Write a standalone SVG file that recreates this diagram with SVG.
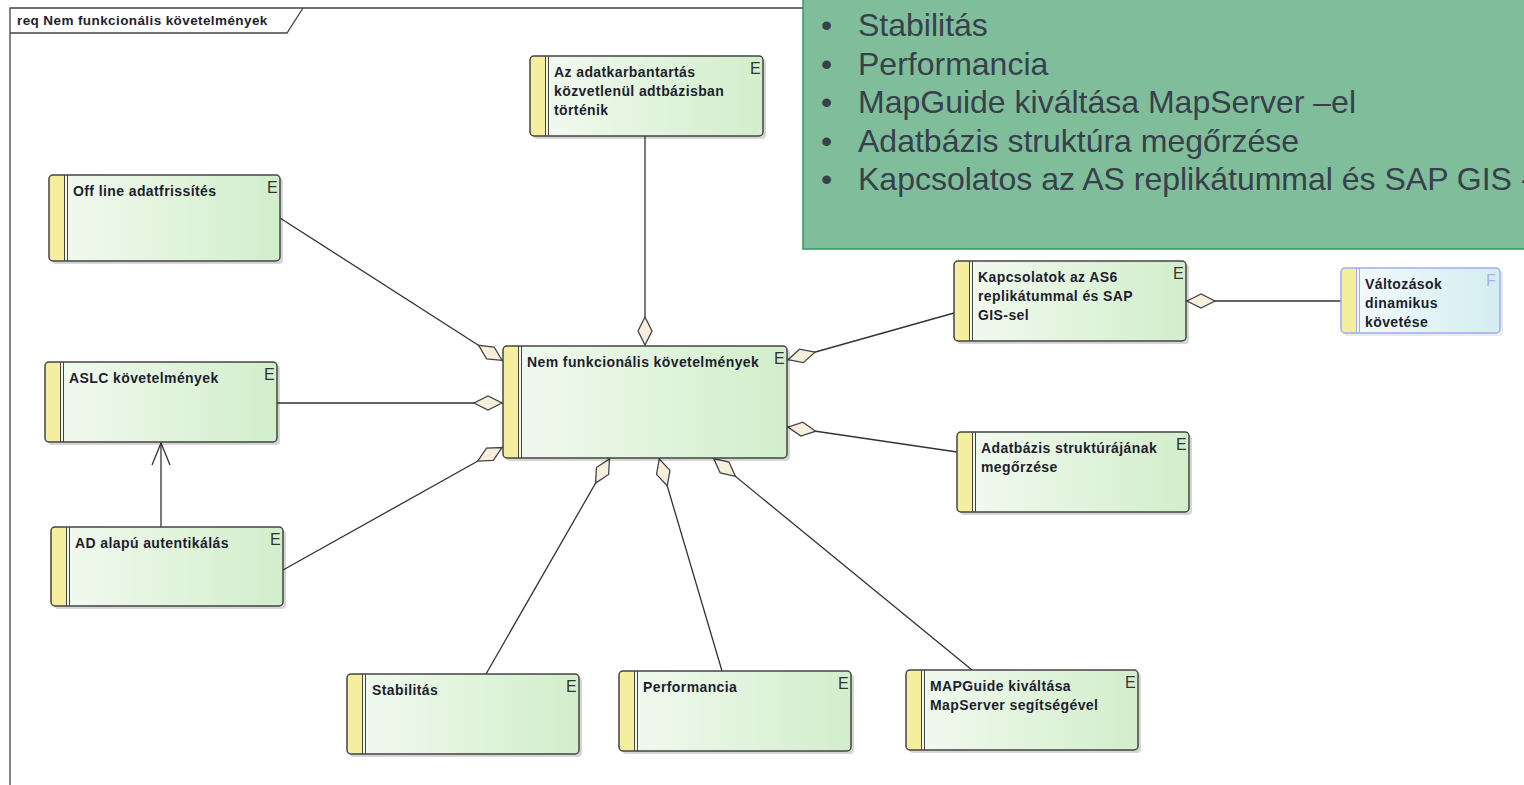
<svg xmlns="http://www.w3.org/2000/svg" width="1524" height="785" viewBox="0 0 1524 785">
<defs>
  <linearGradient id="gE" x1="0" y1="0" x2="1" y2="0">
    <stop offset="0" stop-color="#f3faf1"/>
    <stop offset="1" stop-color="#d2eecb"/>
  </linearGradient>
  <linearGradient id="gF" x1="0" y1="0" x2="1" y2="0">
    <stop offset="0" stop-color="#f6fcfc"/>
    <stop offset="1" stop-color="#d3edf1"/>
  </linearGradient>
  <marker id="dia" markerWidth="32" markerHeight="18" refX="0" refY="9" orient="auto" markerUnits="userSpaceOnUse">
    <path d="M1,9 L15,2 L29,9 L15,16 Z" fill="#f8eedc" stroke="#444" stroke-width="1.3"/>
  </marker>
</defs>
<style>
  .t{font-family:"Liberation Sans",Arial,sans-serif;font-weight:bold;font-size:14px;letter-spacing:0.4px;fill:#1e1e2e}
  .e{font-family:"Liberation Sans",Arial,sans-serif;font-size:16px;fill:#333}
  .f{font-family:"Liberation Sans",Arial,sans-serif;font-size:16px;fill:#a8b0f4}
  .sh{fill:#000;opacity:0.16}
  .bx{fill:url(#gE)}
  .bf{fill:url(#gF)}
  .ys{fill:#f4ee9e}
  .ol{fill:none;stroke:#444;stroke-width:1.5}
  .olf{fill:none;stroke:#a3aaf2;stroke-width:1.5}
  .dl{stroke:#444;stroke-width:1}
  .dlf{stroke:#a3aaf2;stroke-width:1}
  .c{stroke:#333;stroke-width:1.3;fill:none}
  .nt{font-family:"Liberation Sans",Arial,sans-serif;font-size:32px;fill:#38404c}
</style>

<g id="frame">
  <polyline points="803,8 10,8 10,785" fill="none" stroke="#444" stroke-width="1.3"/>
  <polyline points="10,33 287,33 303,8" fill="none" stroke="#444" stroke-width="1.3"/>
  <text x="17" y="25" class="t" style="font-size:13.5px">req Nem funkcionális követelmények</text>
</g>

<g id="connectors">
  <line class="c" x1="645" y1="346" x2="645" y2="136" marker-start="url(#dia)"/>
  <line class="c" x1="503" y1="361" x2="280" y2="218" marker-start="url(#dia)"/>
  <line class="c" x1="503" y1="403" x2="277" y2="403" marker-start="url(#dia)"/>
  <line class="c" x1="503" y1="447" x2="283" y2="570" marker-start="url(#dia)"/>
  <line class="c" x1="610" y1="458" x2="486" y2="674" marker-start="url(#dia)"/>
  <line class="c" x1="659" y1="458" x2="722" y2="671" marker-start="url(#dia)"/>
  <line class="c" x1="713" y1="458" x2="972" y2="670" marker-start="url(#dia)"/>
  <line class="c" x1="787" y1="427" x2="957" y2="452" marker-start="url(#dia)"/>
  <line class="c" x1="787" y1="360" x2="954" y2="313" marker-start="url(#dia)"/>
  <line class="c" x1="1186" y1="301" x2="1341" y2="301" marker-start="url(#dia)"/>
  <line class="c" x1="161" y1="527" x2="161" y2="443"/>
  <polyline class="c" points="152,465 161,443 170,465"/>
</g>

<g id="n-adatkarbantartas">
  <rect class="sh" x="533" y="59" width="233" height="80" rx="4"/>
  <rect class="bx" x="530" y="56" width="233" height="80" rx="4"/>
  <rect class="ys" x="530" y="56" width="15" height="80" rx="4"/>
  <rect class="ys" x="538" y="56" width="8" height="80"/>
  <line class="dl" x1="545.5" y1="56" x2="545.5" y2="136"/><line class="dl" x1="548.5" y1="56" x2="548.5" y2="136"/>
  <rect class="ol" x="530" y="56" width="233" height="80" rx="4"/>
  <text class="t" x="554" y="77">Az adatkarbantartás</text>
  <text class="t" x="554" y="96">közvetlenül adtbázisban</text>
  <text class="t" x="554" y="115">történik</text>
  <text class="e" x="750" y="74">E</text>
</g>

<g id="n-offline">
  <rect class="sh" x="52" y="178" width="231" height="86" rx="4"/>
  <rect class="bx" x="49" y="175" width="231" height="86" rx="4"/>
  <rect class="ys" x="49" y="175" width="15" height="86" rx="4"/>
  <rect class="ys" x="57" y="175" width="8" height="86"/>
  <line class="dl" x1="64.5" y1="175" x2="64.5" y2="261"/><line class="dl" x1="67.5" y1="175" x2="67.5" y2="261"/>
  <rect class="ol" x="49" y="175" width="231" height="86" rx="4"/>
  <text class="t" x="73" y="196">Off line adatfrissítés</text>
  <text class="e" x="267" y="193">E</text>
</g>

<g id="n-aslc">
  <rect class="sh" x="48" y="365" width="232" height="80" rx="4"/>
  <rect class="bx" x="45" y="362" width="232" height="80" rx="4"/>
  <rect class="ys" x="45" y="362" width="15" height="80" rx="4"/>
  <rect class="ys" x="53" y="362" width="8" height="80"/>
  <line class="dl" x1="60.5" y1="362" x2="60.5" y2="442"/><line class="dl" x1="63.5" y1="362" x2="63.5" y2="442"/>
  <rect class="ol" x="45" y="362" width="232" height="80" rx="4"/>
  <text class="t" x="69" y="383">ASLC követelmények</text>
  <text class="e" x="264" y="380">E</text>
</g>

<g id="n-ad">
  <rect class="sh" x="54" y="530" width="232" height="79" rx="4"/>
  <rect class="bx" x="51" y="527" width="232" height="79" rx="4"/>
  <rect class="ys" x="51" y="527" width="15" height="79" rx="4"/>
  <rect class="ys" x="59" y="527" width="8" height="79"/>
  <line class="dl" x1="66.5" y1="527" x2="66.5" y2="606"/><line class="dl" x1="69.5" y1="527" x2="69.5" y2="606"/>
  <rect class="ol" x="51" y="527" width="232" height="79" rx="4"/>
  <text class="t" x="75" y="548">AD alapú autentikálás</text>
  <text class="e" x="270" y="545">E</text>
</g>

<g id="n-central">
  <rect class="sh" x="506" y="349" width="284" height="112" rx="4"/>
  <rect class="bx" x="503" y="346" width="284" height="112" rx="4"/>
  <rect class="ys" x="503" y="346" width="15" height="112" rx="4"/>
  <rect class="ys" x="511" y="346" width="8" height="112"/>
  <line class="dl" x1="518.5" y1="346" x2="518.5" y2="458"/><line class="dl" x1="521.5" y1="346" x2="521.5" y2="458"/>
  <rect class="ol" x="503" y="346" width="284" height="112" rx="4"/>
  <text class="t" x="527" y="367">Nem funkcionális követelmények</text>
  <text class="e" x="774" y="364">E</text>
</g>

<g id="n-kapcsolatok">
  <rect class="sh" x="957" y="264" width="232" height="80" rx="4"/>
  <rect class="bx" x="954" y="261" width="232" height="80" rx="4"/>
  <rect class="ys" x="954" y="261" width="15" height="80" rx="4"/>
  <rect class="ys" x="962" y="261" width="8" height="80"/>
  <line class="dl" x1="969.5" y1="261" x2="969.5" y2="341"/><line class="dl" x1="972.5" y1="261" x2="972.5" y2="341"/>
  <rect class="ol" x="954" y="261" width="232" height="80" rx="4"/>
  <text class="t" x="978" y="282">Kapcsolatok az AS6</text>
  <text class="t" x="978" y="301">replikátummal és SAP</text>
  <text class="t" x="978" y="320">GIS-sel</text>
  <text class="e" x="1173" y="279">E</text>
</g>

<g id="n-valtozasok">
  <rect class="sh" x="1344" y="271" width="159" height="65" rx="4" style="opacity:0.08"/>
  <rect class="bf" x="1341" y="268" width="159" height="65" rx="4"/>
  <rect class="ys" x="1341" y="268" width="15" height="65" rx="4"/>
  <rect class="ys" x="1349" y="268" width="8" height="65"/>
  <line class="dlf" x1="1356.5" y1="268" x2="1356.5" y2="333"/><line class="dlf" x1="1359.5" y1="268" x2="1359.5" y2="333"/>
  <rect class="olf" x="1341" y="268" width="159" height="65" rx="4"/>
  <text class="t" x="1365" y="289">Változások</text>
  <text class="t" x="1365" y="308">dinamikus</text>
  <text class="t" x="1365" y="327">követése</text>
  <text class="f" x="1486" y="286">F</text>
</g>

<g id="n-adatbazis">
  <rect class="sh" x="960" y="435" width="232" height="80" rx="4"/>
  <rect class="bx" x="957" y="432" width="232" height="80" rx="4"/>
  <rect class="ys" x="957" y="432" width="15" height="80" rx="4"/>
  <rect class="ys" x="965" y="432" width="8" height="80"/>
  <line class="dl" x1="972.5" y1="432" x2="972.5" y2="512"/><line class="dl" x1="975.5" y1="432" x2="975.5" y2="512"/>
  <rect class="ol" x="957" y="432" width="232" height="80" rx="4"/>
  <text class="t" x="981" y="453">Adatbázis struktúrájának</text>
  <text class="t" x="981" y="472">megőrzése</text>
  <text class="e" x="1176" y="450">E</text>
</g>

<g id="n-stabilitas">
  <rect class="sh" x="350" y="677" width="232" height="80" rx="4"/>
  <rect class="bx" x="347" y="674" width="232" height="80" rx="4"/>
  <rect class="ys" x="347" y="674" width="15" height="80" rx="4"/>
  <rect class="ys" x="355" y="674" width="8" height="80"/>
  <line class="dl" x1="362.5" y1="674" x2="362.5" y2="754"/><line class="dl" x1="365.5" y1="674" x2="365.5" y2="754"/>
  <rect class="ol" x="347" y="674" width="232" height="80" rx="4"/>
  <text class="t" x="372" y="695">Stabilitás</text>
  <text class="e" x="566" y="692">E</text>
</g>

<g id="n-performancia">
  <rect class="sh" x="622" y="674" width="232" height="80" rx="4"/>
  <rect class="bx" x="619" y="671" width="232" height="80" rx="4"/>
  <rect class="ys" x="619" y="671" width="15" height="80" rx="4"/>
  <rect class="ys" x="627" y="671" width="8" height="80"/>
  <line class="dl" x1="634.5" y1="671" x2="634.5" y2="751"/><line class="dl" x1="637.5" y1="671" x2="637.5" y2="751"/>
  <rect class="ol" x="619" y="671" width="232" height="80" rx="4"/>
  <text class="t" x="643" y="692">Performancia</text>
  <text class="e" x="838" y="689">E</text>
</g>

<g id="n-mapguide">
  <rect class="sh" x="909" y="673" width="232" height="80" rx="4"/>
  <rect class="bx" x="906" y="670" width="232" height="80" rx="4"/>
  <rect class="ys" x="906" y="670" width="15" height="80" rx="4"/>
  <rect class="ys" x="914" y="670" width="8" height="80"/>
  <line class="dl" x1="921.5" y1="670" x2="921.5" y2="750"/><line class="dl" x1="924.5" y1="670" x2="924.5" y2="750"/>
  <rect class="ol" x="906" y="670" width="232" height="80" rx="4"/>
  <text class="t" x="930" y="691">MAPGuide kiváltása</text>
  <text class="t" x="930" y="710">MapServer segítségével</text>
  <text class="e" x="1125" y="688">E</text>
</g>

<g id="note">
  <rect x="803" y="-10" width="740" height="259" fill="#80be9b" stroke="#2f9966" stroke-width="1.5"/>
  <text class="nt" x="821" y="36">•</text><text class="nt" x="858" y="36">Stabilitás</text>
  <text class="nt" x="821" y="75">•</text><text class="nt" x="858" y="75">Performancia</text>
  <text class="nt" x="821" y="113">•</text><text class="nt" x="858" y="113">MapGuide kiváltása MapServer –el</text>
  <text class="nt" x="821" y="152">•</text><text class="nt" x="858" y="152">Adatbázis struktúra megőrzése</text>
  <text class="nt" x="821" y="190">•</text><text class="nt" x="858" y="190">Kapcsolatos az AS replikátummal és SAP GIS -</text>
</g>
</svg>
